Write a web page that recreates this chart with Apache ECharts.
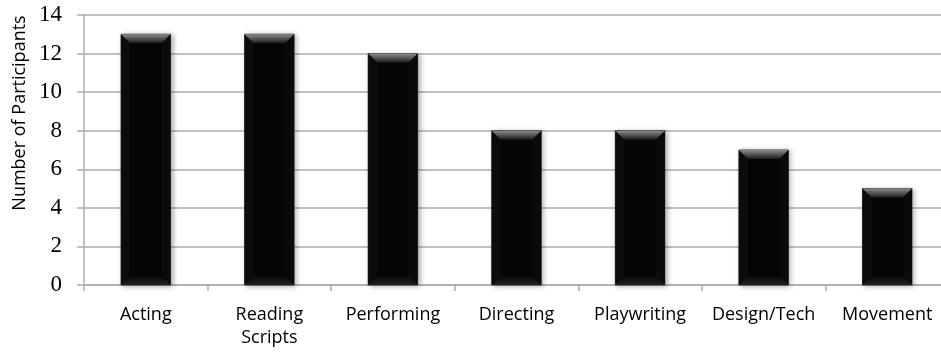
<!DOCTYPE html>
<html>
<head>
<meta charset="utf-8">
<script src="https://cdn.jsdelivr.net/npm/echarts@6/dist/echarts.min.js"></script>
<style>
  html, body { margin: 0; padding: 0; background: #fff; }
  #chart { width: 941px; height: 352px; }
</style>
</head>
<body>
<div id="chart"></div>
<script>
// Activity areas and how many participants named each one
var categories = ['Acting', 'Reading\nScripts', 'Performing', 'Directing', 'Playwriting', 'Design/Tech', 'Movement'];
var participants = [13, 13, 12, 8, 8, 7, 5];
var yMin = 0, yMax = 14, yStep = 2;
var yAxisTitle = 'Number of Participants';

var chart = echarts.init(document.getElementById('chart'), null, { renderer: 'canvas' });

// Bevelled black column: flat body, lighter top facet, faint side/bottom facets
function renderBevelBar(params, api) {
  var idx = api.value(0);
  var top = api.coord([idx, api.value(1)]);
  var base = api.coord([idx, 0]);
  var w = api.size([1, 0])[0] * 0.4;
  var x0 = top[0] - w / 2, x1 = top[0] + w / 2;
  var y0 = top[1], y1 = base[1];
  var b = 9;
  return {
    type: 'group',
    children: [
      {
        type: 'rect',
        shape: { x: x0, y: y0, width: w, height: y1 - y0 },
        style: {
          fill: '#050505', stroke: '#3a3a3a', lineWidth: 1,
          shadowBlur: 5, shadowColor: 'rgba(0,0,0,0.3)', shadowOffsetX: 2, shadowOffsetY: 1
        }
      },
      {
        type: 'polygon',
        shape: { points: [[x0, y0], [x0 + b, y0 + b], [x0 + b, y1 - b], [x0, y1]] },
        style: { fill: '#0c0c0c' }
      },
      {
        type: 'polygon',
        shape: { points: [[x1, y0], [x1 - b, y0 + b], [x1 - b, y1 - b], [x1, y1]] },
        style: { fill: '#0a0a0a' }
      },
      {
        type: 'polygon',
        shape: { points: [[x0, y1], [x0 + b, y1 - b], [x1 - b, y1 - b], [x1, y1]] },
        style: {
          fill: new echarts.graphic.LinearGradient(0, 0, 0, 1, [
            { offset: 0, color: '#080808' }, { offset: 1, color: '#222' }
          ])
        }
      },
      {
        type: 'polygon',
        shape: { points: [[x0, y0], [x1, y0], [x1 - b, y0 + b], [x0 + b, y0 + b]] },
        style: {
          fill: new echarts.graphic.LinearGradient(0, 0, 0, 1, [
            { offset: 0, color: '#8c8c8c' }, { offset: 1, color: '#1a1a1a' }
          ])
        }
      }
    ]
  };
}

var gridColor = '#acacac';

chart.setOption({
  animation: false,
  backgroundColor: '#ffffff',
  grid: { left: 84, right: -8, top: 15, bottom: 67, containLabel: false, outerBoundsMode: 'none' },
  xAxis: {
    type: 'category',
    data: categories,
    axisLine: { lineStyle: { color: gridColor, width: 1.5 } },
    axisTick: { show: true, length: 6, alignWithLabel: false, lineStyle: { color: gridColor, width: 1.5 } },
    axisLabel: {
      interval: 0, margin: 18, color: '#000',
      fontFamily: 'Open Sans', fontSize: 18, lineHeight: 23
    },
    splitLine: { show: false }
  },
  yAxis: {
    type: 'value',
    min: yMin, max: yMax, interval: yStep,
    axisLine: { show: true, lineStyle: { color: gridColor, width: 1.5 } },
    axisTick: { show: true, length: 7, lineStyle: { color: gridColor, width: 1.5 } },
    axisLabel: { margin: 22, color: '#000', fontFamily: 'Liberation Serif', fontSize: 23 },
    splitLine: { show: true, lineStyle: { color: gridColor, width: 1.5 } }
  },
  graphic: [{
    type: 'text',
    x: 20, y: 113,
    rotation: Math.PI / 2,
    style: {
      text: yAxisTitle,
      fill: '#000',
      font: '18px "Open Sans"',
      align: 'center',
      verticalAlign: 'middle'
    }
  }],
  series: [{
    type: 'custom',
    renderItem: renderBevelBar,
    encode: { x: 0, y: 1 },
    data: participants.map(function (v, i) { return [i, v]; })
  }]
});
</script>
</body>
</html>
